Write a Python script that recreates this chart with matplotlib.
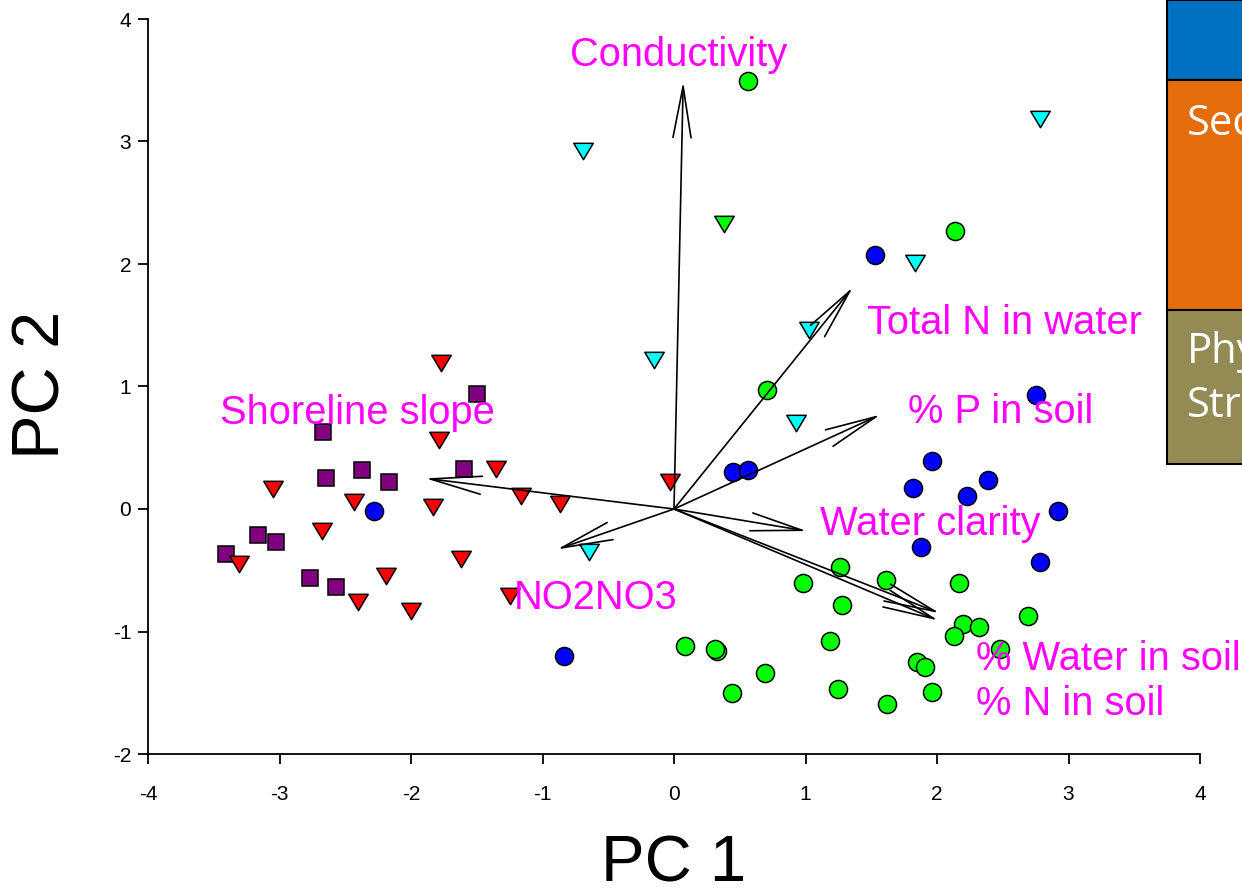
import matplotlib
matplotlib.use("Agg")
import matplotlib.pyplot as plt
from matplotlib.patches import Rectangle
from matplotlib.path import Path
import numpy as np

plt.rcParams['font.family'] = ['Liberation Sans', 'DejaVu Sans']
plt.rcParams['axes.unicode_minus'] = False

# ---- data ----
purple_sq_x = [-1.50, -2.67, -2.65, -2.37, -2.17, -1.60, -3.16, -3.03, -3.41, -2.77, -2.57]
purple_sq_y = [0.94, 0.63, 0.25, 0.32, 0.22, 0.33, -0.21, -0.27, -0.37, -0.56, -0.64]

red_tri_x = [-1.77, -1.79, -1.35, -1.16, -0.87, -3.05, -2.43, -1.83, -2.68, -1.62, -3.31, -2.19, -2.40, -2.00, -1.25, -0.03]
red_tri_y = [1.19, 0.56, 0.33, 0.11, 0.04, 0.16, 0.06, 0.02, -0.18, -0.41, -0.45, -0.55, -0.76, -0.83, -0.71, 0.22]

cyan_tri_x = [-0.69, 2.78, 1.83, -0.15, 1.03, 0.93, -0.65]
cyan_tri_y = [2.92, 3.18, 2.01, 1.22, 1.46, 0.70, -0.35]

green_tri_x = [0.38]
green_tri_y = [2.33]

green_circ_x = [0.56, 2.14, 0.71, 1.26, 0.98, 1.61, 2.17, 1.28, 2.69, 2.20, 2.32, 2.13, 2.48,
                0.08, 0.33, 0.31, 1.19, 1.85, 1.91, 0.69, 0.44, 1.25, 1.96, 1.62]
green_circ_y = [3.49, 2.27, 0.97, -0.47, -0.60, -0.58, -0.60, -0.78, -0.87, -0.94, -0.96, -1.04, -1.14,
                -1.12, -1.16, -1.14, -1.08, -1.25, -1.29, -1.34, -1.50, -1.47, -1.49, -1.59]

blue_circ_x = [1.53, 2.75, 0.45, 0.56, 1.96, 1.82, 2.39, 2.23, 2.92, 1.88, 2.78, -0.84, -2.28]
blue_circ_y = [2.07, 0.93, 0.30, 0.32, 0.39, 0.17, 0.24, 0.11, -0.02, -0.31, -0.43, -1.20, -0.02]

vec_names = ["Conductivity", "Total N in water", "% P in soil", "Water clarity",
             "% Water in soil", "% N in soil", "NO2NO3", "Shoreline slope"]
vec_x = [0.07, 1.36, 1.57, 1.01, 2.02, 2.01, -0.89, -1.89]
vec_y = [3.49, 1.81, 0.77, -0.18, -0.85, -0.91, -0.33, 0.25]
label_x = [-0.79, 1.47, 1.78, 1.11, 2.30, 2.30, -1.22, -3.45]
label_y = [3.71, 1.515, 0.795, -0.125, -1.225, -1.595, -0.725, 0.785]

x_ticks = [-4, -3, -2, -1, 0, 1, 2, 3, 4]
y_ticks = [-2, -1, 0, 1, 2, 3, 4]

# ---- figure ----
fig = plt.figure(figsize=(12.42, 8.96), dpi=100)
ax = fig.add_axes([148/1242, 1-754/896, (1200-148)/1242, (754-19)/896])
ax.set_xlim(-4, 4)
ax.set_ylim(-2, 4)

tri = Path([(-1, 0.84), (1, 0.84), (0, -0.84), (-1, 0.84)],
           [Path.MOVETO, Path.LINETO, Path.LINETO, Path.CLOSEPOLY])

ek = dict(markeredgecolor='black', markeredgewidth=1.1, linestyle='none', zorder=3)
ax.plot(purple_sq_x, purple_sq_y, marker='s', markersize=12, markerfacecolor='#800080', **ek)
ax.plot(red_tri_x, red_tri_y, marker=tri, markersize=14, markerfacecolor='#FF0000', **ek)
ax.plot(cyan_tri_x, cyan_tri_y, marker=tri, markersize=14, markerfacecolor='#00FFFF', **ek)
ax.plot(green_tri_x, green_tri_y, marker=tri, markersize=14, markerfacecolor='#00FF00', **ek)
ax.plot(green_circ_x, green_circ_y, marker='o', markersize=13, markerfacecolor='#00FF00', **ek)
ax.plot(blue_circ_x, blue_circ_y, marker='o', markersize=13, markerfacecolor='#0000FF', **ek)

for vx, vy in zip(vec_x, vec_y):
    ax.annotate('', xy=(vx, vy), xytext=(0, 0),
                arrowprops=dict(arrowstyle='->,head_length=3.7,head_width=0.65',
                                lw=1.2, color='black', shrinkA=0, shrinkB=0,
                                mutation_scale=10),
                zorder=4)

for name, lx, ly in zip(vec_names, label_x, label_y):
    ax.text(lx, ly, name, color='#FF00FF', fontsize=28.7, ha='left', va='center',
            zorder=5, clip_on=False)

for s in ['top', 'right']:
    ax.spines[s].set_visible(False)
for s in ['left', 'bottom']:
    ax.spines[s].set_linewidth(1.3)
ax.set_xticks(x_ticks)
ax.set_yticks(y_ticks)
ax.tick_params(direction='out', length=7, width=1.3, labelsize=15)
ax.tick_params(axis='x', pad=15)
ax.tick_params(axis='y', pad=5)

fig.text(674/1242, 1-864/896, 'PC 1', fontsize=47, ha='center', va='center')
fig.text(42/1242, 1-385/896, 'PC 2', fontsize=48, ha='center', va='center', rotation=90)

# ---- partial side panel (cut off at right edge) ----
W, H = 1242, 896
boxes = [(0, 80, '#0070C0'), (80, 310, '#E46C0A'), (310, 464, '#948A54')]
for top, bot, col in boxes:
    fig.add_artist(Rectangle((1167/W, 1-bot/H), 120/W, (bot-top)/H,
                             transform=fig.transFigure, facecolor=col,
                             edgecolor='black', linewidth=1.5))
side = dict(color='white', fontsize=30, ha='left', va='center',
            family=['Open Sans', 'DejaVu Sans'])
fig.text(1187/W, 1-124/H, 'Sec', **side)
fig.text(1187/W, 1-352/H, 'Phy', **side)
fig.text(1187/W, 1-406/H, 'Str', **side)

fig.savefig('out.png', dpi=100)
